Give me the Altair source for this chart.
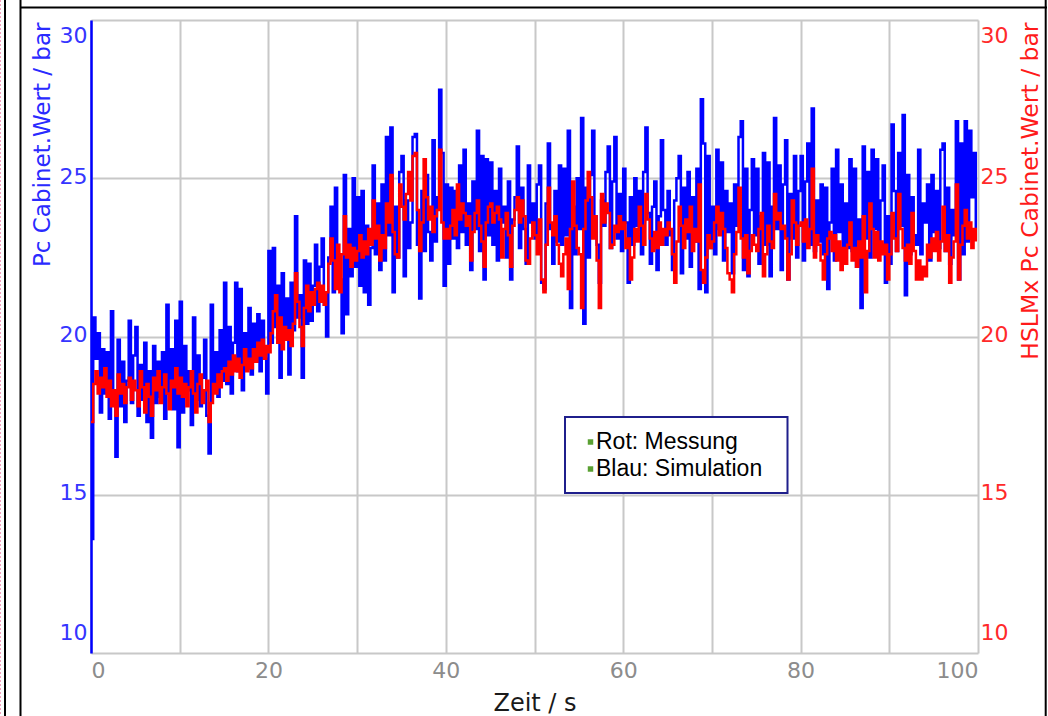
import altair as alt
import pandas as pd

STEP = 0.25  # sampling interval in seconds

# Blau: Simulation (Pc Cabinet.Wert / bar), one value every 0.25 s
BLUE = [
    13.6, 20.6, 19.3, 20.1, 17.6, 19.6, 18.2, 19.5, 17.4, 20.8, 18.1, 16.2, 19.9, 17.8, 19.2, 17.3, 18.6, 20.5, 17.9, 19.4,
    20.3, 17.5, 19.1, 18.0, 19.8, 17.3, 18.9, 16.8, 19.7, 17.9, 19.2, 18.1, 19.5, 17.4, 21.0, 18.2, 19.6, 17.7, 20.5, 16.5,
    21.1, 17.6, 19.7, 18.3, 18.9, 17.2, 20.6, 18.0, 19.4, 17.8, 18.7, 19.9, 17.5, 16.3, 21.0, 18.4, 19.5, 18.1, 20.2, 18.6,
    21.7, 18.5, 20.3, 18.2, 19.8, 21.7, 18.9, 21.5, 18.3, 20.1, 19.0, 20.9, 18.8, 20.4, 19.2, 20.7, 18.9, 20.5, 19.3, 18.2,
    22.7, 19.8, 22.8, 20.3, 21.6, 18.7, 22.0, 19.9, 21.2, 18.8, 21.7, 20.2, 23.8, 20.6, 21.3, 18.7, 22.4, 20.4, 22.3, 20.5,
    21.6, 22.9, 20.8, 22.2, 23.1, 21.0, 20.0, 22.5, 24.1, 21.4, 24.7, 22.3, 21.8, 20.1, 25.1, 20.7, 23.4, 21.9, 25.0, 22.2,
    24.4, 21.6, 24.6, 21.4, 23.5, 21.0, 22.8, 25.4, 22.6, 24.2, 22.1, 24.8, 22.4, 26.3, 23.2, 26.6, 21.4, 24.1, 22.5, 25.2,
    25.7, 21.9, 24.3, 22.8, 23.6, 26.3, 26.4, 22.9, 21.2, 24.6, 22.7, 25.1, 23.3, 22.4, 26.2, 23.0, 24.4, 27.8, 25.8, 21.6,
    24.8, 22.3, 24.7, 23.1, 24.6, 22.8, 25.4, 23.3, 25.9, 22.9, 24.2, 22.1, 24.9, 23.4, 26.5, 22.7, 25.7, 21.8, 25.6, 23.2,
    25.5, 22.9, 24.6, 22.4, 25.3, 23.6, 24.1, 22.5, 24.9, 21.8, 23.7, 24.4, 26.0, 22.8, 24.7, 23.4, 22.3, 25.4, 23.6, 24.2,
    23.1, 24.8, 25.4, 21.7, 21.5, 24.2, 26.1, 23.4, 22.3, 24.6, 23.0, 25.4, 22.9, 25.3, 23.2, 26.5, 20.9, 24.1, 22.6, 25.0,
    23.4, 26.9, 20.4, 24.7, 22.5, 25.1, 26.5, 23.8, 22.9, 21.7, 24.3, 23.5, 25.2, 26.0, 22.8, 24.9, 26.3, 23.1, 24.5, 22.7,
    25.3, 23.6, 21.7, 24.4, 22.9, 25.0, 23.5, 24.6, 22.6, 25.2, 26.6, 23.9, 22.3, 24.1, 24.9, 22.1, 23.8, 26.2, 24.0, 22.9,
    24.6, 23.2, 22.1, 24.3, 25.0, 25.7, 22.0, 24.7, 23.1, 25.2, 22.2, 24.4, 23.0, 25.3, 21.5, 27.5, 26.1, 21.4, 25.7, 22.8,
    24.1, 22.6, 25.9, 23.4, 25.5, 22.4, 24.6, 23.3, 24.2, 22.0, 24.8, 23.5, 26.3, 26.8, 22.1, 25.3, 21.9, 24.0, 25.6, 23.2,
    25.3, 22.3, 23.8, 25.8, 22.9, 25.5, 21.9, 24.1, 26.9, 23.4, 25.4, 22.1, 24.8, 26.2, 21.8, 24.5, 23.1, 25.7, 22.5, 24.6,
    25.7, 22.4, 24.9, 26.1, 22.9, 27.2, 22.7, 24.3, 23.0, 24.8, 22.6, 24.7, 21.5, 23.6, 25.3, 22.4, 25.9, 23.3, 24.8, 22.7,
    24.2, 22.8, 25.6, 22.7, 25.3, 22.2, 23.7, 20.9, 26.0, 23.1, 25.2, 22.5, 25.9, 23.4, 25.6, 22.9, 24.3, 25.4, 21.7, 23.8,
    22.3, 26.7, 24.6, 22.7, 25.8, 23.5, 27.0, 21.3, 25.1, 22.6, 24.4, 23.2, 22.9, 25.9, 22.6, 24.2, 23.6, 24.8, 22.4, 25.1,
    23.3, 24.6, 22.8, 25.9, 26.1, 22.7, 24.7, 22.3, 24.0, 23.2, 26.8, 21.8, 26.1, 22.6, 26.8, 23.0, 26.5, 24.4, 25.8, 23.4,
]

# Rot: Messung (HSLMx Pc Cabinet.Wert / bar), one value every 0.25 s
RED = [
    17.3, 18.5, 18.9, 18.2, 18.7, 18.4, 19.0, 18.1, 18.6, 17.8, 18.3, 17.5, 18.8, 18.2, 18.5, 17.9, 18.4, 18.7, 18.0, 18.6,
    18.3, 17.8, 18.9, 18.4, 17.6, 18.5, 18.1, 17.5, 18.7, 18.3, 18.9, 17.9, 18.4, 18.8, 18.2, 17.7, 18.6, 18.4, 19.0, 18.2,
    18.7, 18.1, 18.5, 17.8, 18.4, 18.9, 18.2, 17.6, 18.5, 18.8, 17.9, 18.3, 18.6, 17.3, 17.9, 18.5, 18.2, 18.8, 18.4, 18.9,
    19.0, 18.6, 19.2, 18.8, 19.4, 18.9, 19.3, 18.7, 19.1, 19.6, 18.9, 19.3, 19.0, 19.6, 19.2, 19.8, 19.4, 19.9, 19.3, 19.7,
    19.5, 20.1, 20.8, 21.3, 19.8, 20.6, 19.6, 20.3, 19.9, 20.2, 19.7, 20.4, 22.0, 21.1, 20.3, 19.7, 20.9, 21.6, 20.8, 21.4,
    21.0, 21.5, 21.7, 21.1, 21.6, 21.0, 21.4, 22.3, 23.1, 22.4, 21.5, 22.9, 21.4, 22.6, 23.8, 22.5, 22.9, 22.2, 22.8, 22.4,
    22.7, 23.2, 22.5, 23.0, 22.6, 23.4, 22.9, 24.3, 23.1, 23.5, 22.4, 23.2, 22.8, 24.2, 23.6, 25.1, 23.3, 22.6, 22.5, 24.8,
    24.1, 23.7, 24.5, 25.2, 24.3, 25.7, 25.8, 24.0, 22.7, 23.6, 25.6, 24.4, 23.7, 24.1, 23.3, 23.8, 24.0, 25.9, 23.6, 23.1,
    23.4, 23.1, 23.5, 24.0, 23.2, 24.8, 23.7, 24.2, 23.9, 23.5, 23.8, 22.4, 23.3, 23.9, 24.3, 23.5, 23.0, 22.2, 23.6, 24.1,
    24.2, 23.6, 23.9, 24.1, 23.7, 22.5, 23.4, 23.9, 23.2, 22.2, 23.5, 24.0, 24.4, 23.6, 24.3, 23.8, 22.4, 22.3, 23.1, 23.6,
    23.2, 22.6, 23.7, 21.8, 21.4, 22.9, 24.7, 23.6, 23.2, 23.8, 22.9, 22.3, 21.9, 22.6, 23.1, 21.5, 23.4, 24.9, 23.5, 22.8,
    22.6, 20.9, 23.4, 24.3, 25.2, 24.4, 23.1, 23.8, 22.4, 20.9, 24.5, 23.6, 24.2, 23.9, 22.8, 22.9, 23.5, 23.3, 23.8, 23.4,
    23.6, 22.8, 23.1, 21.8, 22.5, 23.4, 23.0, 24.1, 23.5, 22.9, 24.5, 23.7, 23.1, 22.7, 23.3, 22.8, 23.6, 22.9, 23.4, 23.2,
    23.6, 23.4, 22.6, 21.7, 23.0, 24.1, 23.5, 22.8, 23.7, 23.3, 24.1, 22.7, 23.4, 23.0, 24.8, 22.1, 21.7, 22.5, 23.2, 22.8,
    23.0, 23.6, 24.1, 23.2, 23.9, 23.4, 22.8, 22.0, 21.8, 21.4, 22.6, 23.3, 24.7, 23.1, 22.5, 23.2, 22.0, 22.7, 23.2, 22.9,
    22.7, 23.4, 23.9, 21.9, 22.6, 23.5, 23.0, 22.8, 24.5, 23.7, 23.9, 23.4, 23.5, 23.1, 21.8, 22.6, 24.3, 23.6, 22.9, 23.5,
    23.6, 23.0, 23.7, 22.8, 23.4, 25.3, 22.5, 23.2, 22.9, 22.4, 21.8, 22.6, 23.1, 23.3, 22.7, 23.2, 22.4, 23.0, 22.1, 22.8,
    22.3, 22.9, 23.6, 22.4, 22.8, 22.2, 23.0, 22.5, 23.8, 21.4, 22.7, 24.2, 23.4, 22.5, 23.3, 22.4, 23.0, 22.6, 22.9, 21.8,
    22.6, 23.9, 23.1, 22.7, 24.5, 23.4, 22.8, 22.4, 22.9, 22.3, 23.9, 22.7, 21.8, 22.4, 21.8, 22.2, 21.9, 22.9, 22.5, 23.1,
    22.7, 23.3, 22.4, 23.0, 24.1, 22.7, 23.2, 21.7, 22.5, 23.0, 24.8, 21.8, 22.9, 23.5, 24.0, 23.1, 23.6, 22.8, 23.4, 23.0,
]

X_DOMAIN = [0, 100]
Y_DOMAIN = [10, 30]
X_GRID_VALUES = [0, 10, 20, 30, 40, 50, 60, 70, 80, 90, 100]
Y_TICKS = [10, 15, 20, 25, 30]
X_TITLE = "Zeit / s"
Y_LEFT_TITLE = "Pc Cabinet.Wert / bar"
Y_RIGHT_TITLE = "HSLMx Pc Cabinet.Wert / bar"
LEGEND_LINES = ["Rot: Messung", "Blau: Simulation"]

W, H = 887, 633

blue_df = pd.DataFrame({"t": [i * STEP for i in range(len(BLUE))], "v": BLUE})
red_df = pd.DataFrame({"t": [i * STEP for i in range(len(RED))], "v": RED})
one = pd.DataFrame({"k": [0]})

FONT = "DejaVu Sans"

x_enc = alt.X(
    "t:Q",
    scale=alt.Scale(domain=X_DOMAIN, nice=False, zero=False),
    axis=alt.Axis(
        values=X_GRID_VALUES,
        labelExpr="datum.value % 20 === 0 ? datum.label : ''",
        title=X_TITLE,
        grid=True, gridColor="#c8c8c8", gridWidth=2,
        domain=False, ticks=False,
        labelColor="#8c8c8c", labelFont=FONT, labelFontSize=22,
        labelFlush=True, labelPadding=7,
        titleFont=FONT, titleFontSize=24, titleFontWeight="normal",
        titleColor="#1a1a1a", titleY=50, titleBaseline="middle",
    ),
)

blue = alt.Chart(blue_df).mark_line(
    color="#0000ff", strokeWidth=2.5, interpolate="step-after"
).encode(
    x=x_enc,
    y=alt.Y(
        "v:Q",
        scale=alt.Scale(domain=Y_DOMAIN, nice=False, zero=False),
        axis=alt.Axis(
            orient="left", values=Y_TICKS, title=Y_LEFT_TITLE,
            grid=True, gridColor="#c8c8c8", gridWidth=2,
            domain=True, domainColor="#0000ff", domainWidth=2.5,
            ticks=False,
            labelColor="#3535ff", labelFont=FONT, labelFontSize=22,
            labelPadding=4, labelFlush=True, labelFlushOffset=-7, labelOffset=-2,
            titleColor="#2a2aff", titleFont=FONT, titleFontSize=23,
            titleFontWeight="normal", titleAngle=270, titleAlign="right",
            titleBaseline="middle", titleX=-49, titleY=2,
        ),
    ),
)

red = alt.Chart(red_df).mark_line(
    color="#ff0000", strokeWidth=2.5, interpolate="step-after"
).encode(
    x=x_enc,
    y=alt.Y(
        "v:Q",
        scale=alt.Scale(domain=Y_DOMAIN, nice=False, zero=False),
        axis=alt.Axis(
            orient="right", values=Y_TICKS, title=Y_RIGHT_TITLE,
            grid=False, domain=False, ticks=False,
            labelColor="#ff2a2a", labelFont=FONT, labelFontSize=22,
            labelPadding=2, labelFlush=True, labelFlushOffset=-7, labelOffset=-2,
            titleColor="#ff1a1a", titleFont=FONT, titleFontSize=23.5,
            titleFontWeight="normal", titleAngle=270, titleAlign="right",
            titleBaseline="middle", titleX=52, titleY=2,
        ),
    ),
)

# frame of the surrounding window (decoration)
def vrule(x, color="#000000", width=2, dash=None):
    kw = dict(color=color, strokeWidth=width)
    if dash:
        kw["strokeDash"] = dash
    return alt.Chart(one).mark_rule(**kw).encode(
        x=alt.value(x), y=alt.value(-20), y2=alt.value(H + 63)
    )

frame_top = alt.Chart(one).mark_rule(color="#000000", strokeWidth=2).encode(
    x=alt.value(-71), x2=alt.value(956), y=alt.value(-12.5)
)
frame = [
    vrule(-90.5, color="#f4a0bc", width=1, dash=[2, 2]),
    vrule(-86, width=2),
    vrule(-70.5, width=2),
    vrule(954.7, width=2),
    frame_top,
]

legend_box = alt.Chart(one).mark_rect(
    fill="white", stroke="#1f1f8c", strokeWidth=2
).encode(
    x=alt.value(474), x2=alt.value(696.5), y=alt.value(397), y2=alt.value(473)
)
legend_marks = []
for i, line in enumerate(LEGEND_LINES):
    yy = 422 + i * 27
    legend_marks.append(
        alt.Chart(one).mark_square(color="#5aa032", size=30, opacity=1).encode(
            x=alt.value(499.5), y=alt.value(yy)
        )
    )
    legend_marks.append(
        alt.Chart(one).mark_text(
            align="left", baseline="middle", font="Liberation Sans",
            fontSize=23, color="#000000"
        ).encode(x=alt.value(505), y=alt.value(yy), text=alt.value(line))
    )

chart = alt.layer(
    blue, red, *frame, legend_box, *legend_marks
).resolve_scale(y="independent").properties(
    width=W, height=H,
    autosize=alt.AutoSizeParams(type="none"),
    padding={"left": 91, "top": 20, "right": 70, "bottom": 63},
    background="white",
).configure_view(stroke="transparent")

chart.save("out.html", embed_options={"renderer": "svg", "actions": False})
